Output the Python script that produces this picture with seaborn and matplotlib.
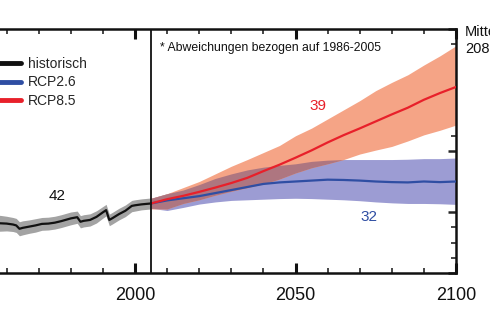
import numpy as np
import pandas as pd
import matplotlib
matplotlib.use("Agg")
import matplotlib.pyplot as plt
import seaborn as sns
from matplotlib.ticker import MultipleLocator

# ---------------- data ----------------
hist_years = [1950, 1953, 1955, 1958, 1960, 1962, 1963, 1964, 1965, 1967, 1969, 1971,
              1973, 1975, 1977, 1980, 1982, 1983, 1984, 1986, 1988, 1990, 1991, 1992,
              1993, 1995, 1997, 1999, 2000, 2002, 2005]
hist_mean = [-0.38, -0.40, -0.37, -0.37, -0.38, -0.41, -0.44, -0.55, -0.52, -0.48, -0.44, -0.39,
             -0.38, -0.35, -0.30, -0.21, -0.17, -0.32, -0.29, -0.26, -0.16, -0.01, 0.06, -0.26,
             -0.20, -0.07, 0.04, 0.20, 0.22, 0.25, 0.28]
hist_lo = [-0.62, -0.64, -0.61, -0.63, -0.62, -0.64, -0.67, -0.78, -0.75, -0.70, -0.66, -0.60,
           -0.59, -0.56, -0.51, -0.42, -0.37, -0.52, -0.49, -0.46, -0.36, -0.20, -0.13, -0.45,
           -0.39, -0.26, -0.15, 0.01, 0.03, 0.07, 0.10]
hist_hi = [-0.14, -0.16, -0.13, -0.11, -0.14, -0.18, -0.21, -0.32, -0.29, -0.26, -0.22, -0.18,
           -0.17, -0.14, -0.09, 0.00, 0.03, -0.12, -0.09, -0.06, 0.04, 0.18, 0.25, -0.07,
           -0.01, 0.12, 0.23, 0.38, 0.40, 0.43, 0.46]

proj_years = [2005, 2010, 2015, 2020, 2025, 2030, 2035, 2040, 2045, 2050,
              2055, 2060, 2065, 2070, 2075, 2080, 2085, 2090, 2095, 2100]
rcp85_mean = [0.28, 0.42, 0.53, 0.66, 0.80, 0.95, 1.12, 1.34, 1.55, 1.78,
              2.02, 2.28, 2.52, 2.74, 2.97, 3.20, 3.42, 3.68, 3.90, 4.10]
rcp85_lo = [0.10, 0.10, 0.28, 0.40, 0.55, 0.68, 0.80, 0.92, 1.08, 1.28,
            1.45, 1.58, 1.72, 1.90, 2.03, 2.15, 2.33, 2.53, 2.68, 2.85]
rcp85_hi = [0.45, 0.60, 0.80, 1.00, 1.25, 1.50, 1.72, 1.95, 2.18, 2.50,
            2.75, 3.05, 3.35, 3.65, 3.98, 4.25, 4.50, 4.82, 5.12, 5.45]
rcp26_mean = [0.28, 0.38, 0.45, 0.52, 0.62, 0.72, 0.82, 0.92, 0.97, 1.00,
              1.03, 1.06, 1.05, 1.03, 1.00, 0.98, 0.97, 1.00, 0.98, 1.00]
rcp26_lo = [0.12, 0.05, 0.15, 0.26, 0.33, 0.38, 0.40, 0.42, 0.44, 0.45,
            0.44, 0.42, 0.40, 0.37, 0.33, 0.30, 0.28, 0.28, 0.27, 0.25]
rcp26_hi = [0.45, 0.60, 0.72, 0.90, 1.10, 1.25, 1.38, 1.47, 1.53, 1.58,
            1.66, 1.70, 1.72, 1.72, 1.72, 1.72, 1.73, 1.75, 1.75, 1.77]

series_labels = ["historisch", "RCP2.6", "RCP8.5"]
model_counts = ["42", "32", "39"]
note_text = "* Abweichungen bezogen auf 1986-2005"
side_text = "Mittel\n2081-2100"
x_major = [2000, 2050, 2100]

# ---------------- styling ----------------
sns.set_theme(style="ticks")
plt.rcParams["font.family"] = ["Liberation Sans", "DejaVu Sans"]

C_BLACK = "#111111"
C_GRAY = "#a3a3a3"
C_BLUE = "#2f4ea3"
C_BLUE_BAND = "#9c9cd3"
C_RED = "#e8202a"
C_RED_BAND = "#f5a486"
C_OVERLAP = "#ae7680"

W, H = 490, 327
fig = plt.figure(figsize=(W / 100, H / 100), dpi=100)
x0_px, x1_px, top_px, bot_px = -25.5, 456, 29, 273
ax = fig.add_axes([x0_px / W, 1 - bot_px / H, (x1_px - x0_px) / W, (bot_px - top_px) / H])

py = np.array(proj_years, dtype=float)
lo85, hi85 = np.array(rcp85_lo), np.array(rcp85_hi)
lo26, hi26 = np.array(rcp26_lo), np.array(rcp26_hi)

# bands
ax.fill_between(hist_years, hist_lo, hist_hi, color=C_GRAY, lw=0, zorder=1)
ax.fill_between(py, lo26, hi26, color=C_BLUE_BAND, lw=0, zorder=1)
ax.fill_between(py, lo85, hi85, color=C_RED_BAND, lw=0, zorder=2)
ov_lo = np.maximum(lo85, lo26)
ov_hi = np.minimum(hi85, hi26)
ax.fill_between(py, ov_lo, ov_hi, where=ov_hi > ov_lo, interpolate=True,
                color=C_OVERLAP, lw=0, zorder=3)

# lines
df_hist = pd.DataFrame({"Jahr": hist_years, "T": hist_mean})
df_26 = pd.DataFrame({"Jahr": proj_years, "T": rcp26_mean})
df_85 = pd.DataFrame({"Jahr": proj_years, "T": rcp85_mean})
sns.lineplot(data=df_hist, x="Jahr", y="T", ax=ax, color=C_BLACK, lw=1.6, zorder=5,
             label=series_labels[0])
sns.lineplot(data=df_26, x="Jahr", y="T", ax=ax, color=C_BLUE, lw=1.6, zorder=5,
             label=series_labels[1])
sns.lineplot(data=df_85, x="Jahr", y="T", ax=ax, color=C_RED, lw=1.6, zorder=6,
             label=series_labels[2])

ax.axvline(2005, color=C_BLACK, lw=1.3, zorder=7)

ax.set_xlim(1950, 2100)
ax.set_ylim(-2, 6)
ax.set_xlabel("")
ax.set_ylabel("")

for s in ax.spines.values():
    s.set_visible(True)
    s.set_linewidth(1.8)
    s.set_color(C_BLACK)

ax.set_xticks(x_major)
ax.set_xticklabels([str(v) for v in x_major])
ax.xaxis.set_minor_locator(MultipleLocator(10))
ax.yaxis.set_major_locator(MultipleLocator(2))
ax.yaxis.set_minor_locator(MultipleLocator(0.5))
ax.tick_params(axis="x", which="major", direction="in", length=7, width=2.2,
               top=True, bottom=True, labelsize=13, pad=10, colors=C_BLACK)
ax.tick_params(axis="x", which="minor", direction="in", length=3.5, width=1.2,
               top=True, bottom=True)
ax.tick_params(axis="y", which="major", direction="in", length=6, width=1.8,
               left=True, right=True, labelleft=False, labelright=False)
ax.tick_params(axis="y", which="minor", direction="in", length=3.5, width=1.2,
               left=True, right=True)

# legend
leg = ax.legend(loc="upper left", bbox_to_anchor=(-20.7 / W, 1 - 57 / H),
                bbox_transform=fig.transFigure, frameon=False, fontsize=10,
                handlelength=3.0, handletextpad=0.5, labelspacing=0.32,
                borderpad=0, borderaxespad=0)
for line in leg.get_lines():
    line.set_linewidth(3.5)

# annotations
ax.text(1975.7, 0.52, model_counts[0], color=C_BLACK, fontsize=11, ha="center", va="center")
ax.text(2072.8, -0.16, model_counts[1], color=C_BLUE, fontsize=11, ha="center", va="center")
ax.text(2056.9, 3.46, model_counts[2], color=C_RED, fontsize=11, ha="center", va="center")
fig.text(160 / W, 1 - 48 / H, note_text, fontsize=8.8, ha="left", va="center", color=C_BLACK)
fig.text(465 / W, 1 - 25 / H, side_text, fontsize=10.5, ha="left", va="top",
         color=C_BLACK, linespacing=1.3)

fig.savefig("out.png", dpi=100)
